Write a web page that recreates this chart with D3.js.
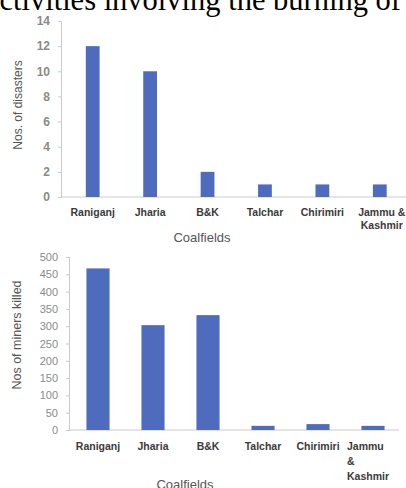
<!DOCTYPE html>
<html>
<head>
<meta charset="utf-8">
<script src="https://cdn.jsdelivr.net/npm/d3@7"></script>
<style>
  html, body { margin: 0; padding: 0; background: #fff; }
  svg { display: block; }
</style>
</head>
<body>
<svg id="fig" width="406" height="488"></svg>
<script>
// Coalfield fire disasters and miners killed
const coalfields = ["Raniganj", "Jharia", "B&K", "Talchar", "Chirimiri", "Jammu & Kashmir"];
const disasters = [12, 10, 2, 1, 1, 1];
const minersKilled = [467, 303, 332, 12, 17, 12];
const disasterTicks = [0, 2, 4, 6, 8, 10, 12, 14];
const killedTicks = [0, 50, 100, 150, 200, 250, 300, 350, 400, 450, 500];

// label lines for each category in each panel
const topLabelLines = [["Raniganj"], ["Jharia"], ["B&K"], ["Talchar"], ["Chirimiri"], ["Jammu &", "Kashmir"]];
const bottomLabelLines = [["Raniganj"], ["Jharia"], ["B&K"], ["Talchar"], ["Chirimiri"], ["Jammu", "&", "Kashmir"]];

const svg = d3.select("#fig");
const barColor = "#4f6bbd";
const axisColor = "#cacaca";
const tickColor = "#8a8a8a";
const labelColor = "#3a3a3a";
const sans = "'Liberation Sans', Arial, sans-serif";

// running text line above the figure
svg.append("text")
  .attr("x", 401).attr("y", 10)
  .attr("text-anchor", "end")
  .attr("font-family", "'Liberation Serif', 'Times New Roman', serif")
  .attr("font-size", 30.5)
  .attr("fill", "#000")
  .text("ctivities involving the burning of");

function panel(cfg) {
  const x = d3.scaleBand().domain(coalfields).range(cfg.xRange)
    .paddingInner(cfg.pad).paddingOuter(cfg.pad / 2);
  const y = d3.scaleLinear().domain(cfg.domain).range([cfg.y0, cfg.yTop]);
  const g = svg.append("g");

  // axes
  const yAxis = d3.axisLeft(y).tickValues(cfg.ticks).tickSize(3).tickPadding(cfg.tickPad);
  const ya = g.append("g").attr("transform", `translate(${cfg.axisX},0)`).call(yAxis);
  ya.select(".domain").attr("stroke", axisColor);
  ya.selectAll(".tick line").attr("stroke", axisColor);
  ya.selectAll(".tick text").attr("fill", tickColor).attr("font-family", sans)
    .attr("font-size", cfg.tickFont).attr("font-weight", cfg.tickWeight);

  g.append("line")
    .attr("x1", cfg.axisX).attr("x2", cfg.xAxisEnd)
    .attr("y1", y(0)).attr("y2", y(0))
    .attr("stroke", axisColor);

  // bars
  g.selectAll("rect.bar").data(cfg.values).join("rect")
    .attr("class", "bar")
    .attr("x", (d, i) => x(coalfields[i]))
    .attr("width", x.bandwidth())
    .attr("y", d => y(d))
    .attr("height", d => y(0) - y(d))
    .attr("fill", barColor);

  // category labels
  const lab = g.selectAll("text.cat").data(cfg.lines).join("text")
    .attr("class", "cat")
    .attr("x", (d, i) => x(coalfields[i]) + x.bandwidth() / 2 + (cfg.labelShift[i] || 0))
    .attr("y", y(0) + cfg.labelDy)
    .attr("text-anchor", (d, i) => cfg.anchor[i] || "middle")
    .attr("font-family", sans).attr("font-size", cfg.catFont).attr("font-weight", "bold")
    .attr("fill", labelColor);
  lab.each(function(lines) {
    const t = d3.select(this);
    lines.forEach((s, k) => {
      t.append("tspan").attr("x", t.attr("x")).attr("dy", k === 0 ? 0 : cfg.lineGap).text(s);
    });
  });

  // axis titles
  svg.append("text")
    .attr("transform", `translate(${cfg.yTitleX},${cfg.yTitleY}) rotate(-90)`)
    .attr("text-anchor", "middle")
    .attr("font-family", sans).attr("font-size", cfg.yTitleFont)
    .attr("fill", "#555")
    .text(cfg.yTitle);
  svg.append("text")
    .attr("x", cfg.xTitleX).attr("y", cfg.xTitleY)
    .attr("text-anchor", "middle")
    .attr("font-family", sans).attr("font-size", 13)
    .attr("fill", "#555")
    .text("Coalfields");
}

panel({
  values: disasters, domain: [0, 14], ticks: disasterTicks,
  y0: 197, yTop: 21, axisX: 61, xAxisEnd: 406,
  xRange: [64, 408.5], pad: 0.76,
  lines: topLabelLines, labelDy: 19, lineGap: 13, catFont: 10.5,
  labelShift: [0, 0, 0, 0, 0, 2], anchor: [],
  tickFont: 12, tickWeight: "bold", tickPad: 8,
  yTitle: "Nos. of disasters", yTitleX: 22, yTitleY: 105, yTitleFont: 12,
  xTitleX: 202, xTitleY: 242
});

panel({
  values: minersKilled, domain: [0, 500], ticks: killedTicks,
  y0: 430, yTop: 257, axisX: 69, xAxisEnd: 399,
  xRange: [70.5, 400.5], pad: 0.58,
  lines: bottomLabelLines, labelDy: 20, lineGap: 15, catFont: 10.5,
  labelShift: [0, 0, 0, 0, 0, -26], anchor: ["middle", "middle", "middle", "middle", "middle", "start"],
  tickFont: 11, tickWeight: "normal", tickPad: 8,
  yTitle: "Nos of miners killed", yTitleX: 21, yTitleY: 335, yTitleFont: 12.5,
  xTitleX: 185, xTitleY: 489
});
</script>
</body>
</html>
